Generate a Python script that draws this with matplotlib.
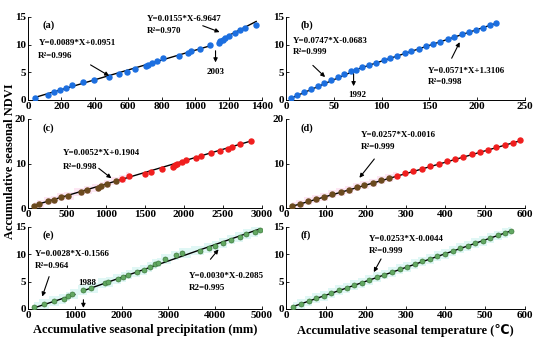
import numpy as np
import matplotlib.pyplot as plt

plt.rcParams['font.family'] = ['Liberation Serif', 'DejaVu Sans']
plt.rcParams['font.weight'] = 'bold'

# ---- data ----
# (a) NDVI vs accumulative precipitation, site 1
xa = [40, 120, 155, 190, 225, 265, 330, 395, 485, 545, 595, 640, 705, 720, 740, 770, 810,
      905, 960, 975, 1030, 1090, 1140, 1150, 1165, 1180, 1200, 1240, 1270, 1300, 1365]
ya = [0.4, 0.9, 1.4, 1.8, 2.2, 2.7, 3.2, 3.7, 4.2, 4.7, 5.1, 5.6, 6.1, 6.4, 6.6, 7.0, 7.5,
      8.0, 8.5, 8.8, 9.3, 9.9, 10.3, 10.6, 10.9, 11.2, 11.6, 12.1, 12.6, 13.1, 13.6]
fit_a = [(0.0089, 0.0951, 40, 1095), (0.0155, -6.9647, 1140, 1365)]

# (b) NDVI vs accumulative temperature, site 1
xb = [5, 12, 19, 26, 33, 40, 47, 54, 61, 68, 73, 80, 87, 94, 102, 109, 116, 124, 131, 139,
      146, 154, 161, 169, 176, 184, 191, 199, 206, 213, 220]
yb = [0.4, 0.95, 1.5, 2.0, 2.55, 3.1, 3.6, 4.15, 4.7, 5.2, 5.45, 5.95, 6.35, 6.75, 7.2, 7.6,
      8.0, 8.45, 8.85, 9.3, 9.7, 10.1, 10.55, 11.0, 11.4, 11.85, 12.25, 12.7, 13.1, 13.5, 13.9]
fit_b = [(0.0747, -0.0683, 5, 73), (0.0571, 1.3106, 73, 220)]

# (c) precipitation, site 2
xc = [80, 140, 260, 330, 420, 510, 680, 750, 900, 940, 1010, 1130, 1200, 1300, 1500, 1580,
      1720, 1860, 1880, 1910, 1980, 2030, 2150, 2220, 2340, 2460, 2560, 2620, 2720, 2860]
yc = [0.5, 0.9, 1.5, 1.9, 2.4, 2.8, 3.5, 4.0, 4.6, 5.0, 5.5, 6.1, 6.6, 7.1, 7.6, 8.1,
      8.7, 9.2, 9.6, 9.9, 10.3, 10.8, 11.3, 11.7, 12.3, 12.8, 13.2, 13.8, 14.4, 15.0]
fit_c = [(0.0052, 0.1904, 80, 2860)]

# (d) temperature, site 2
xd = [15, 35, 55, 75, 96, 116, 137, 157, 177, 197, 218, 238, 258, 278, 299, 320, 341, 362,
      383, 404, 424, 445, 466, 487, 508, 528, 549, 570, 588]
yd = [0.45, 1.0, 1.5, 2.0, 2.55, 3.05, 3.6, 4.1, 4.65, 5.15, 5.7, 6.2, 6.75, 7.25, 7.8, 8.3,
      8.85, 9.4, 9.9, 10.45, 11.0, 11.5, 12.05, 12.6, 13.1, 13.65, 14.15, 14.7, 15.2]
fit_d = [(0.0257, -0.0016, 15, 588)]

# (e) precipitation, site 3
xe = [121, 350, 563, 770, 863, 950, 1184, 1340, 1648, 1705, 1920, 2040, 2130, 2330, 2470,
      2600, 2720, 2775, 2930, 3170, 3300, 3680, 3860, 4000, 4165, 4340, 4520, 4665, 4860, 4950]
ye = [0.3, 0.85, 1.4, 1.8, 2.3, 2.8, 3.4, 3.8, 4.75, 5.0, 5.5, 5.8, 6.3, 6.8, 7.2,
      7.7, 8.3, 8.5, 9.1, 9.8, 10.2, 10.7, 11.2, 11.6, 12.1, 12.7, 13.2, 13.7, 14.1, 14.5]
fit_e = [(0.0028, -0.1566, 120, 1000), (0.0030, -0.2085, 1190, 4960)]

# (f) temperature, site 3
xf = [18, 37, 57, 76, 95, 114, 133, 152, 171, 190, 209, 228, 247, 266, 285, 304, 323, 342,
      361, 380, 399, 418, 437, 456, 475, 494, 513, 532, 551, 565]
yf = [0.45, 0.95, 1.45, 1.95, 2.4, 2.9, 3.4, 3.85, 4.35, 4.8, 5.3, 5.8, 6.3, 6.75, 7.25,
      7.7, 8.2, 8.7, 9.15, 9.65, 10.1, 10.6, 11.1, 11.55, 12.0, 12.5, 12.95, 13.45, 13.95, 14.3]
fit_f = [(0.0253, -0.0044, 18, 565)]

blue = '#1c6fe0'
red = '#f01e1e'
brown = '#6b4a1e'
green = '#62a862'
MS = 3.6

fig = plt.figure(figsize=(5.5, 3.47), dpi=100)
L, R = 28 / 550, 286 / 550
W1, W2 = 234 / 550, 239 / 550
rows = [((347 - 100) / 347, 83 / 347), ((347 - 208) / 347, 89 / 347), ((347 - 309) / 347, 82 / 347)]
ARROW = dict(arrowstyle='-|>', color='black', lw=0.8, mutation_scale=6)

def make_ax(col, row, xlim, xticks, ylim, yticks):
    b, h = rows[row]
    ax = fig.add_axes([L if col == 0 else R, b, W1 if col == 0 else W2, h])
    ax.set_xlim(*xlim)
    ax.set_ylim(*ylim)
    ax.set_xticks(xticks)
    ax.set_yticks(yticks)
    for s in ['top', 'right']:
        ax.spines[s].set_visible(False)
    ax.tick_params(direction='in', length=2.5, labelsize=8, pad=1.5, width=0.6)
    for s in ['left', 'bottom']:
        ax.spines[s].set_linewidth(0.7)
    return ax

def draw_fits(ax, fits):
    for a, b, x0, x1 in fits:
        xs = np.array([x0, x1])
        ax.plot(xs, a * xs + b, color='black', lw=1.0, zorder=2)

def note(ax, txt, x, y, **kw):
    ax.text(x, y, txt, fontsize=6.5, fontweight='bold', va='center', **kw)

def arrow(ax, tip, tail):
    ax.annotate('', xy=tip, xytext=tail, arrowprops=ARROW, annotation_clip=False)

def label(ax, s):
    ax.text(0.06, 0.9, s, transform=ax.transAxes, fontsize=7.5, fontweight='bold', va='center')

def shade(ax, x, y, color):
    x = np.array(x); y = np.array(y)
    ax.fill_between(x, y - 0.9, y + 0.9, step='mid', color=color, lw=0, zorder=0)

# (a)
ax = make_ax(0, 0, (0, 1400), range(0, 1401, 200), (0, 15), [0, 5, 10, 15])
draw_fits(ax, fit_a)
ax.plot(xa, ya, 'o', color=blue, ms=MS, mec=blue, zorder=3)
label(ax, '(a)')
note(ax, 'Y=0.0089*X+0.0951', 62, 10.3)
note(ax, 'R²=0.996', 62, 8.0)
arrow(ax, (500, 4.1), (360, 6.6))
note(ax, 'Y=0.0155*X-6.9647', 712, 14.6)
note(ax, 'R²=0.970', 712, 12.4)
arrow(ax, (1162, 12.1), (1030, 13.6))
arrow(ax, (1122, 6.3), (1122, 9.4))
note(ax, '2003', 1122, 5.0, ha='center')

# (b)
ax = make_ax(1, 0, (0, 250), range(0, 251, 50), (0, 15), [0, 5, 10, 15])
draw_fits(ax, fit_b)
ax.plot(xb, yb, 'o', color=blue, ms=MS, mec=blue, zorder=3)
label(ax, '(b)')
note(ax, 'Y=0.0747*X-0.0683', 7, 10.75)
note(ax, 'R²=0.999', 7, 8.6)
arrow(ax, (43, 3.8), (26, 6.6))
arrow(ax, (70.7, 2.0), (70.7, 5.2))
note(ax, '1992', 75, 0.9, ha='center')
note(ax, 'Y=0.0571*X+1.3106', 148, 5.3)
note(ax, 'R²=0.998', 148, 3.2)
arrow(ax, (183, 10.9), (172, 7.1))

# (c)
ax = make_ax(0, 1, (0, 3000), range(0, 3001, 500), (0, 20), [0, 10, 20])
shade(ax, xc[:14], yc[:14], '#fde6f3')
draw_fits(ax, fit_c)
ax.plot(xc[:12], yc[:12], 'o', color=brown, ms=MS, mec=brown, zorder=3)
ax.plot(xc[12:], yc[12:], 'o', color=red, ms=MS, mec=red, zorder=3)
label(ax, '(c)')
note(ax, 'Y=0.0052*X+0.1904', 441, 12.3)
note(ax, 'R²=0.998', 441, 9.3)
arrow(ax, (1097, 6.3), (879, 9.3))

# (d)
ax = make_ax(1, 1, (0, 600), range(0, 601, 100), (0, 20), [0, 10, 20])
shade(ax, xd[:14], yd[:14], '#fde6f3')
draw_fits(ax, fit_d)
ax.plot(xd[:13], yd[:13], 'o', color=brown, ms=MS, mec=brown, zorder=3)
ax.plot(xd[13:], yd[13:], 'o', color=red, ms=MS, mec=red, zorder=3)
label(ax, '(d)')
note(ax, 'Y=0.0257*X-0.0016', 188, 16.45)
note(ax, 'R²=0.999', 188, 13.7)
arrow(ax, (180, 6.3), (226, 11.5))

# (e)
ax = make_ax(0, 2, (0, 5000), range(0, 5001, 1000), (0, 15), [0, 5, 10, 15])
shade(ax, xe, ye, '#e0f7f5')
draw_fits(ax, fit_e)
ax.plot(xe, ye, 'o', color=green, ms=MS, mec='#3d7a3d', mew=0.5, zorder=3)
label(ax, '(e)')
note(ax, 'Y=0.0028*X-0.1566', 150, 10.1)
note(ax, 'R²=0.964', 150, 7.8)
arrow(ax, (285, 1.8), (470, 6.4))
note(ax, '1988', 1075, 4.7)
arrow(ax, (1184, -0.3), (1184, 2.2))
note(ax, 'Y=0.0030*X-0.2085', 3430, 6.1)
note(ax, 'R2=0.995', 3430, 3.8)
arrow(ax, (4108, 11.3), (3860, 8.7))
ax.set_xlabel('Accumulative seasonal precipitation (mm)', fontsize=9, fontweight='bold', labelpad=3)

# (f)
ax = make_ax(1, 2, (0, 600), range(0, 601, 100), (0, 15), [0, 5, 10, 15])
shade(ax, xf, yf, '#e0f7f5')
draw_fits(ax, fit_f)
ax.plot(xf, yf, 'o', color=green, ms=MS, mec='#3d7a3d', mew=0.5, zorder=3)
label(ax, '(f)')
note(ax, 'Y=0.0253*X-0.0044', 208, 12.8)
note(ax, 'R²=0.999', 208, 10.55)
arrow(ax, (217, 6.3), (242, 9.6))
ax.set_xlabel('Accumulative seasonal temperature (℃)', fontsize=9, fontweight='bold', labelpad=3)

fig.text(0.018, 0.535, 'Accumulative seasonal NDVI', rotation=90, fontsize=9,
         fontweight='bold', ha='center', va='center')

fig.savefig('out.png', dpi=100)
